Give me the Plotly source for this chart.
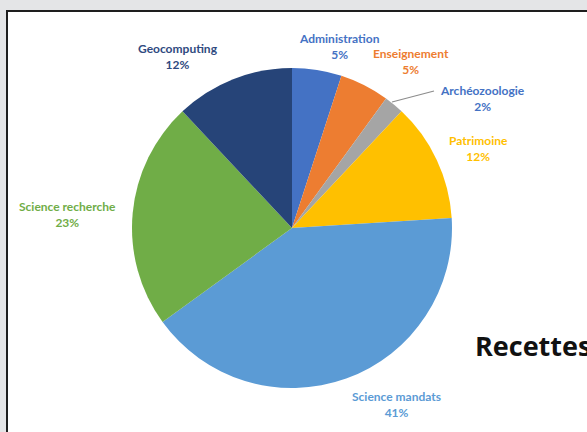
import plotly.graph_objects as go

# Revenue breakdown (percent of total)
categories = ["Administration", "Enseignement", "Archéozoologie", "Patrimoine",
              "Science mandats", "Science recherche", "Geocomputing"]
shares = [5, 5, 2, 12, 41, 23, 12]
slice_colors = ["#4472c4", "#ed7d31", "#a5a5a5", "#ffc000",
                "#5b9bd5", "#70ad47", "#264478"]
label_colors = ["#4472c4", "#ed7d31", "#4472c4", "#ffc000",
                "#5b9bd5", "#70ad47", "#2f4a80"]
title_text = "Recettes"

W, H = 587, 432

# label anchor points in pixels (centre of the two-line label)
label_px = {
    "Administration": (339, 47),
    "Enseignement": (411, 61),
    "Archéozoologie": (482, 98),
    "Patrimoine": (478, 148),
    "Science mandats": (396, 404),
    "Science recherche": (67, 214),
    "Geocomputing": (178, 56),
}


def px(x, y):
    return x / W, 1 - y / H


# pie geometry in pixels
cx, cy, r = 292, 228, 160
x0, y_top = px(cx - r, cy - r)
x1, y_bot = px(cx + r, cy + r)

fig = go.Figure(go.Pie(
    labels=categories,
    values=shares,
    sort=False,
    direction="clockwise",
    rotation=0,
    marker=dict(colors=slice_colors, line=dict(width=0)),
    textinfo="none",
    hoverinfo="label+percent",
    showlegend=False,
    domain=dict(x=[x0, x1], y=[y_bot, y_top]),
))

annotations = []
for name, val, col in zip(categories, shares, label_colors):
    lx, ly = px(*label_px[name])
    annotations.append(dict(
        x=lx, y=ly, xref="paper", yref="paper",
        text=f"<b>{name}</b><br><b>{val}%</b>",
        showarrow=False, align="center",
        xanchor="center", yanchor="middle",
        font=dict(family="Lato, Open Sans, sans-serif", size=12, color=col),
    ))

tx, ty = px(473, 345)
annotations.append(dict(
    x=tx, y=ty, xref="paper", yref="paper",
    text=f"<b>{title_text}</b>", showarrow=False,
    xanchor="left", yanchor="middle",
    font=dict(family="Open Sans, sans-serif", size=27, color="#111111"),
))

bx0, by0 = px(7, 11)
lx0, ly0 = px(392, 102)
lx1, ly1 = px(434, 91)
shapes = [
    dict(type="rect", xref="paper", yref="paper",
         x0=bx0, x1=1.05, y0=-0.05, y1=by0,
         fillcolor="white", line=dict(color="#1e1e1e", width=2), layer="below"),
    dict(type="line", xref="paper", yref="paper",
         x0=lx0, y0=ly0, x1=lx1, y1=ly1,
         line=dict(color="#8c8c8c", width=1.2)),
]

fig.update_layout(
    width=W, height=H,
    margin=dict(l=0, r=0, t=0, b=0),
    paper_bgcolor="#e4e5e7",
    plot_bgcolor="white",
    annotations=annotations,
    shapes=shapes,
)

fig.write_html("out.html")
